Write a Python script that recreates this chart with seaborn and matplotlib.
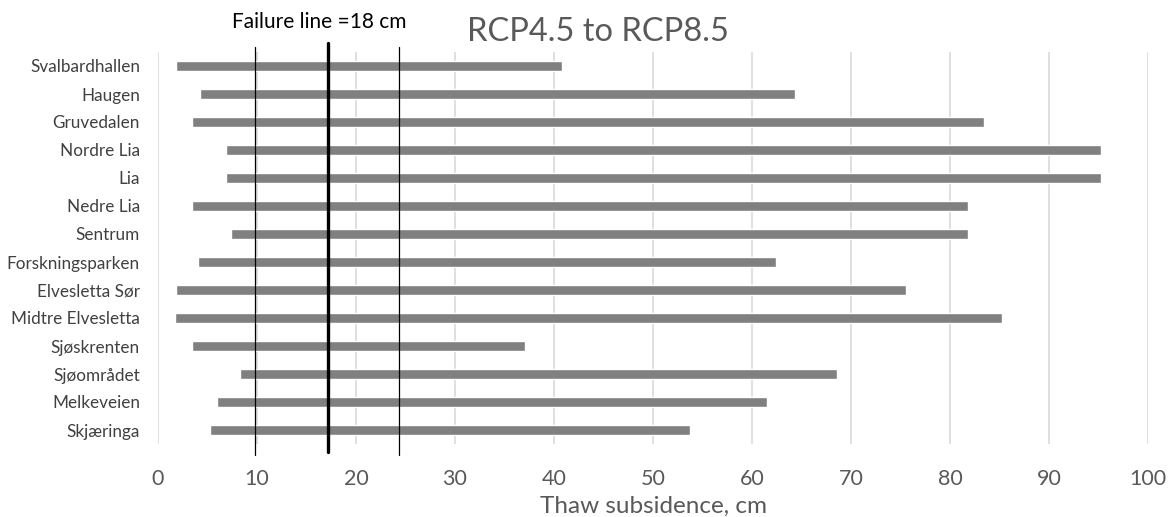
import matplotlib
matplotlib.use("Agg")
import matplotlib.pyplot as plt
import seaborn as sns
import pandas as pd

# data (cm)
sites = ['Svalbardhallen', 'Haugen', 'Gruvedalen', 'Nordre Lia', 'Lia', 'Nedre Lia',
         'Sentrum', 'Forskningsparken', 'Elvesletta Sør', 'Midtre Elvesletta',
         'Sjøskrenten', 'Sjøområdet', 'Melkeveien', 'Skjæringa']
low = [1.8, 4.2, 3.4, 6.9, 6.9, 3.4, 7.4, 4.0, 1.8, 1.7, 3.4, 8.3, 6.0, 5.3]
high = [40.8, 64.3, 83.4, 95.3, 95.3, 81.8, 81.8, 62.4, 75.6, 85.3, 37.1, 68.6, 61.5, 53.7]
lower_line = 9.8
failure_line = 17.2
upper_line = 24.3

df = pd.DataFrame({'site': sites, 'low': low, 'high': high})
df['span'] = df['high'] - df['low']

sns.set_style('white')
plt.rcParams['font.family'] = ['Lato', 'DejaVu Sans']

fig = plt.figure(figsize=(11.73, 5.17), dpi=100)
ax = fig.add_axes([158 / 1173, 1 - 444 / 517, 990 / 1173, 392 / 517])

sns.barplot(data=df, x='span', y='site', order=sites, color='#808080',
            saturation=1, width=0.37, ax=ax, zorder=2)
# floating bars: move each bar so it starts at the low value
for patch, start in zip(ax.patches, df['low']):
    patch.set_x(start)

ax.set_xlim(0, 100)
ax.set_ylim(13.5, -0.5)
ax.set_xticks(range(0, 101, 10))
ax.xaxis.grid(True, color='#d9d9d9', linewidth=1.2, zorder=0)
ax.yaxis.grid(False)
ax.set_axisbelow(True)
for s in ax.spines.values():
    s.set_visible(False)

ax.axvline(lower_line, ymin=-0.028, ymax=1.0135, color='black', linewidth=0.9, clip_on=False, zorder=3)
ax.axvline(upper_line, ymin=-0.028, ymax=1.0135, color='black', linewidth=0.9, clip_on=False, zorder=3)
ax.axvline(failure_line, ymin=-0.02, ymax=1.024, color='black', linewidth=2.4, clip_on=False, zorder=3)

ax.tick_params(axis='x', length=0, pad=18, labelsize=15.5, labelcolor='#595959')
ax.tick_params(axis='y', length=0, pad=13, labelsize=12.3, labelcolor='#404040')
ax.set_ylabel('')
ax.set_xlabel('Thaw subsidence, cm', fontsize=17.5, color='#595959', labelpad=5)

fig.text(598 / 1173, 1 - 32 / 517, 'RCP4.5 to RCP8.5', fontsize=23.5, color='#595959',
         ha='center', va='center')
fig.text(319 / 1173, 1 - 22 / 517, 'Failure line =18 cm', fontsize=15, color='black',
         ha='center', va='center')

fig.savefig('out.png', dpi=100)
plt.close(fig)
